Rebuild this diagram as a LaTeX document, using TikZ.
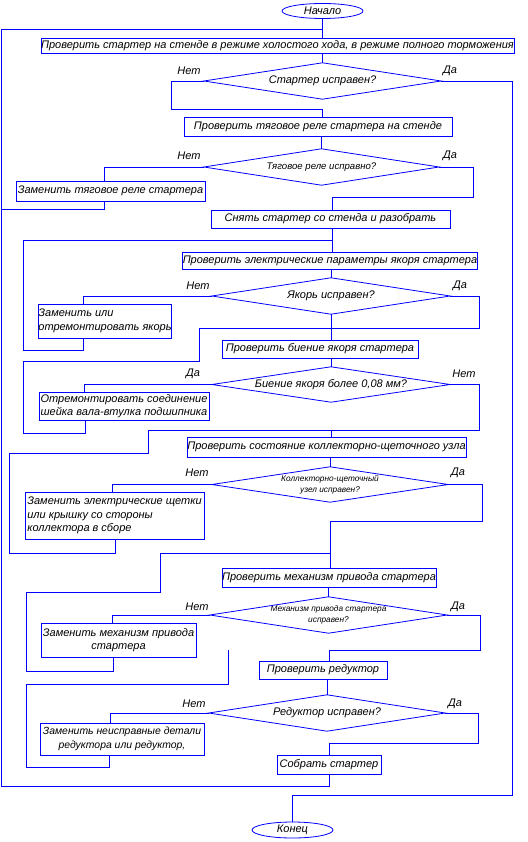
\documentclass[tikz,border=0pt]{standalone}
\usepackage{fontspec}
\setmainfont{Liberation Sans}
\usetikzlibrary{shapes.geometric}
\begin{document}
\begin{tikzpicture}[x=1pt,y=-1pt,
  line/.style={draw=blue, line width=0.8pt},
  txt/.style={font=\fontsize{11}{13.5}\selectfont\itshape},
  smalltxt/.style={font=\fontsize{8.3}{11}\selectfont\itshape},
  midtxt/.style={font=\fontsize{9.6}{11}\selectfont\itshape},
  box/.style={line, rectangle, inner sep=0pt, txt},
  term/.style={line, ellipse, inner sep=0pt, txt},
  dia/.style={rectangle, inner sep=0pt, txt},
  lbl/.style={inner sep=0pt, txt}]
\useasboundingbox (0,0) rectangle (527,842);

% terminals
\node[term, minimum width=81pt, minimum height=15pt] (start) at (322.5,11) {Начало};
\node[term, minimum width=81pt, minimum height=16pt] (end) at (292.5,830) {Конец};

% process boxes
\node[box, minimum width=469pt, minimum height=15pt] (b1) at (277.5,45.5) {Проверить стартер на стенде в режиме холостого хода, в режиме полного торможения};
\node[box, minimum width=268pt, minimum height=19pt] (b2) at (318,126.5) {Проверить тяговое реле стартера на стенде};
\node[box, minimum width=189pt, minimum height=20pt] (b3) at (110.5,191) {Заменить тяговое реле стартера};
\node[box, minimum width=239pt, minimum height=18pt] (b4) at (330.5,219) {Снять стартер со стенда и разобрать};
\node[box, minimum width=290pt, minimum height=17pt] (b5) at (330,260.5) {Проверить электрические параметры якоря стартера};
\node[box, minimum width=132pt, minimum height=34pt, align=left] (b6) at (105,321) {Заменить или\\отремонтировать якорь};
\node[box, minimum width=196pt, minimum height=18pt] (b7) at (320,349) {Проверить биение якоря стартера};
\node[box, minimum width=170pt, minimum height=28pt, align=left] (b8) at (124,406) {Отремонтировать соединение\\шейка вала-втулка подшипника};
\node[box, minimum width=279pt, minimum height=20pt] (b9) at (326.5,447) {Проверить состояние коллекторно-щеточного узла};
\node[box, minimum width=179pt, minimum height=47pt, align=left] (b10) at (114.5,515.5) {Заменить электрические щетки\\или крышку со стороны\\коллектора в сборе};
\node[box, minimum width=214pt, minimum height=19pt] (b11) at (329,577.5) {Проверить механизм привода стартера};
\node[box, minimum width=155pt, minimum height=34pt, align=center] (b12) at (118.5,640) {Заменить механизм привода\\стартера};
\node[box, minimum width=128pt, minimum height=18pt] (b13) at (323,670) {Проверить редуктор};
\node[box, minimum width=164pt, minimum height=32pt, align=center, font=\fontsize{10.4}{13.5}\selectfont\itshape] (b14) at (122,739) {Заменить неисправные детали\\редуктора или редуктор,};
\node[box, minimum width=104pt, minimum height=19pt] (b15) at (329,764.5) {Собрать стартер};

% decisions
\node[dia, minimum width=237pt, minimum height=36pt] (d1) at (322.5,81) {Стартер исправен?};
\node[dia, midtxt, minimum width=235pt, minimum height=36pt] (d2) at (321.5,167) {Тяговое реле исправно?};
\node[dia, minimum width=238pt, minimum height=36pt] (d3) at (331,296) {Якорь исправен?};
\node[dia, minimum width=238pt, minimum height=35pt] (d4) at (331,384.5) {Биение якоря более 0,08 мм?};
\node[dia, smalltxt, align=center, minimum width=236pt, minimum height=35pt] (d5) at (330,484.5) {Коллекторно-щеточный\\узел исправен?};
\node[dia, smalltxt, align=center, minimum width=237pt, minimum height=36pt] (d6) at (328.5,615) {Механизм привода стартера\\исправен?};
\node[dia, minimum width=236pt, minimum height=36pt] (d7) at (327,713) {Редуктор исправен?};
\foreach \d in {d1,d2,d3,d4,d5,d6,d7}
  \draw[line] (\d.north) -- (\d.east) -- (\d.south) -- (\d.west) -- cycle;

% branch labels
\node[lbl] (n1) at (189,71) {Нет};   \node[lbl] (y1) at (450,71) {Да};
\node[lbl] (n2) at (189,156) {Нет};  \node[lbl] (y2) at (450,156) {Да};
\node[lbl] (n3) at (198,286) {Нет};  \node[lbl] (y3) at (460,286) {Да};
\node[lbl] (y4) at (193,374) {Да};   \node[lbl] (n4) at (464,374) {Нет};
\node[lbl] (n5) at (197,473) {Нет};  \node[lbl] (y5) at (458,473) {Да};
\node[lbl] (n6) at (197,607) {Нет};  \node[lbl] (y6) at (458,607) {Да};
\node[lbl] (n7) at (194,704) {Нет};  \node[lbl] (y7) at (455,704) {Да};

% connectors
\draw[line] (start.south) -- (start.south |- b1.north);
\draw[line] (b1.south -| d1.north) -- (d1.north);
\draw[line] (d1.west) -| (171,109) -| (d1.north |- b2.north);
\draw[line] (d1.east) -| (512,795) -| (end.north);
\draw[line] (b2.south -| d2.north) -- (d2.north);
\draw[line] (d2.west) -| (b3.north -| 104,0);
\draw[line] (b3.south -| 104,0) |- (1,209);
\draw[line] (b15.south) |- (1,786) |- (start.south |- 0,29);
\draw[line] (d2.east) -| (473,197) -| (b4.north -| 332,0);
\draw[line] (b4.south -| 332,0) -- (b5.north -| 332,0);
\draw[line] (332,240) -| (23,350) -| (b6.south -| 83,0);
\draw[line] (b5.south -| d3.north) -- (d3.north);
\draw[line] (d3.west) -| (b6.north -| 83,0);
\draw[line] (d3.east) -| (479,328) -- (199,328);
\draw[line] (d3.south) -- (d3.south |- b7.north);
\draw[line] (b8.south -| 85,0) |- (23,433) |- (199,361) -- (199,328);
\draw[line] (b7.south -| d4.north) -- (d4.north);
\draw[line] (d4.west) -| (b8.north -| 84,0);
\draw[line] (d4.east) -| (479,430) -| (148,453) -| (9,553) -| (b10.south -| 115,0);
\draw[line] (331,430) -- (b9.north -| 331,0);
\draw[line] (b9.south -| d5.north) -- (d5.north);
\draw[line] (d5.west) -| (b10.north -| 112,0);
\draw[line] (d5.east) -| (482,521) -| (b11.north -| 330,0);
\draw[line] (b12.south -| 113,0) |- (26,671) |- (160,592) |- (330,553);
\draw[line] (b11.south -| d6.north) -- (d6.north);
\draw[line] (d6.west) -| (b12.north -| 112,0);
\draw[line] (d6.east) -| (480,650) -| (b13.north -| 329,0);
\draw[line] (b14.south -| 109,0) |- (26,767) |- (228,684) -- (228,650);
\draw[line] (b13.south -| d7.north) -- (d7.north);
\draw[line] (d7.west) -| (b14.north -| 110,0);
\draw[line] (d7.east) -| (478,743) -| (b15.north);
\end{tikzpicture}
\end{document}
